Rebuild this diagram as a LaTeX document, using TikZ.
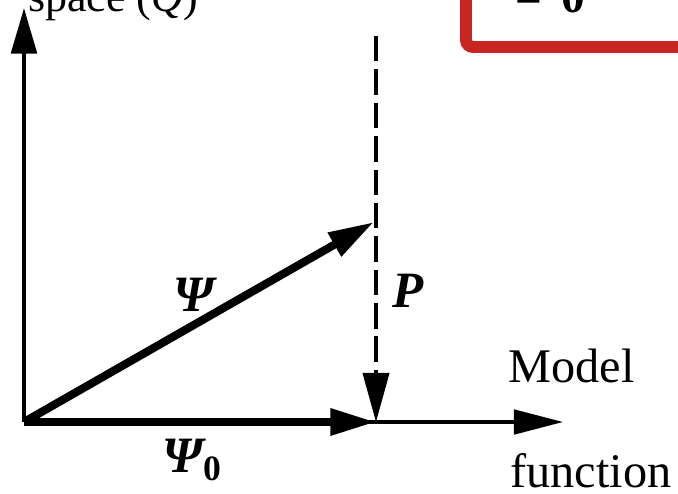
\documentclass[tikz,border=0pt]{standalone}
\usepackage{fontspec}
\setmainfont{Liberation Serif}
\usetikzlibrary{arrows.meta}
\definecolor{boxRed}{RGB}{200,36,34}
\tikzset{
  vecArrow/.style={line width=4.6pt, -{Triangle[length=26pt,width=14.5pt]}},
  axisArrow/.style={line width=2.4pt, -{Triangle[length=26pt,width=14.5pt]}},
  thinAxisArrow/.style={line width=1.9pt, -{Triangle[length=28pt,width=14pt]}},
  projArrow/.style={line width=1.8pt, dash pattern=on 14.5pt off 4.5pt, -{Triangle[length=28pt,width=15pt]}},
  vecLabel/.style={font=\fontsize{29}{30}\selectfont\bfseries\itshape, inner sep=0pt},
  axisLabel/.style={font=\fontsize{27.5}{30}\selectfont, inner sep=0pt, anchor=base west},
  boxFrame/.style={draw=boxRed, line width=6.8pt, rounded corners=4pt}
}
\begin{document}
\begin{tikzpicture}[x=0.02cm, y=-0.02cm]
  \useasboundingbox (0,0) rectangle (678,493);
  % points of the diagram
  \coordinate (origin) at (24,422);
  \coordinate (qTip) at (24,8);
  \coordinate (pTop) at (376,36);
  \coordinate (psiTip) at (374,222);
  \coordinate (pFoot) at (376,422);
  \coordinate (xTip) at (563,422);
  % cut-off frame at the top right
  \draw[boxFrame] (466,-60) rectangle (740,47);
  \node[inner sep=0pt, anchor=base west, font=\fontsize{27}{30}\selectfont\bfseries] (eqText) at (515,13) {=\hspace{11pt}0};
  % axes
  \draw[axisArrow] (origin) -- (qTip);
  \draw[thinAxisArrow] (origin) -- (xTip);
  \node[axisLabel, font=\fontsize{25}{30}\selectfont] (spaceLabel) at (28,12) {space (\textit{Q})};
  \node[axisLabel] (modelLabel) at (508,382) {Model};
  \node[axisLabel] (functionLabel) at (510,487) {function};
  % vectors
  \draw[projArrow] (pTop) -- (pFoot);
  \draw[vecArrow] (origin) -- (psiTip);
  \draw[vecArrow] (origin) -- (pFoot);
  \node[vecLabel] (psiLabel) at (194,295) {Ψ};
  \node[vecLabel] (psiZeroLabel) at (192,460) {Ψ\textsubscript{\upshape 0}};
  \node[vecLabel] (pLabel) at (408,291) {P};
\end{tikzpicture}
\end{document}
